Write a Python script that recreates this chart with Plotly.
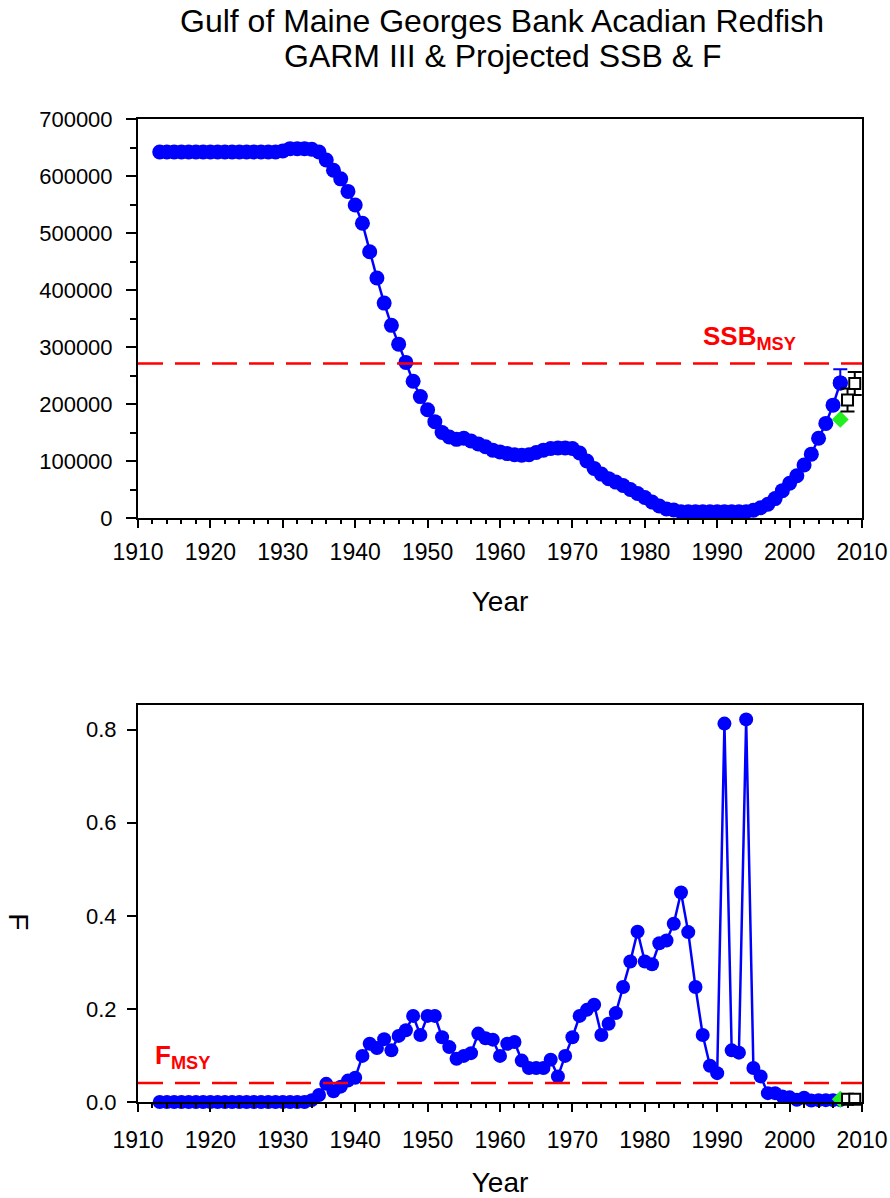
import plotly.graph_objects as go

# Assessment years and model estimates
years = list(range(1913, 2008))

ssb = (
    [642000] * 17                                   # 1913-1929
    + [644000, 648000, 648000, 648000, 647000,      # 1930-1934
       642000, 628000, 610000, 595000, 573000,      # 1935-1939
       549000, 517000, 467000, 421000, 377000,      # 1940-1944
       338000, 305000, 273000, 240000, 213000,      # 1945-1949
       190000, 169000, 150000, 142000, 138000,      # 1950-1954
       140000, 135000, 130000, 125000, 119000,      # 1955-1959
       116000, 113000, 111000, 110000, 111000,      # 1960-1964
       115000, 119000, 122000, 123000, 123000,      # 1965-1969
       122000, 114000, 100000, 87000, 77000,        # 1970-1974
       69000, 63000, 57000, 50000, 43000,           # 1975-1979
       36000, 28000, 21000, 16000, 14000]           # 1980-1984
    + [11000] * 10                                  # 1985-1994
    + [13500, 18000, 24000, 34000, 48000,           # 1995-1999
       61000, 74000, 93000, 112000, 140000,         # 2000-2004
       166000, 198000, 237000]                      # 2005-2007
)

fmort = (
    [0.0] * 21                                      # 1913-1933
    + [0.004, 0.015, 0.039, 0.023, 0.033, 0.046,    # 1934-1939
       0.052, 0.099, 0.125, 0.116, 0.135,           # 1940-1944
       0.111, 0.142, 0.154, 0.185, 0.144,           # 1945-1949
       0.185, 0.185, 0.139, 0.118, 0.093,           # 1950-1954
       0.099, 0.105, 0.147, 0.137, 0.134,           # 1955-1959
       0.099, 0.125, 0.129, 0.089, 0.073,           # 1960-1964
       0.073, 0.073, 0.091, 0.055, 0.099,           # 1965-1969
       0.139, 0.185, 0.198, 0.209, 0.144,           # 1970-1974
       0.168, 0.191, 0.247, 0.302, 0.366,           # 1975-1979
       0.302, 0.296, 0.341, 0.347, 0.383,           # 1980-1984
       0.450, 0.365, 0.247, 0.144, 0.078,           # 1985-1989
       0.062, 0.813, 0.111, 0.106, 0.822,           # 1990-1994
       0.073, 0.055, 0.019, 0.019, 0.012,           # 1995-1999
       0.010, 0.005, 0.009, 0.003, 0.004,           # 2000-2004
       0.004, 0.004, 0.004]                         # 2005-2007
)

# Terminal-year upper confidence bound on SSB
ssb_last_upper = 24000

# Alternative terminal-year estimate
alt_years = [2007]
alt_ssb = [173000]
alt_f = [0.006]

# Projections
proj_years = [2008, 2009]
proj_ssb = [207000, 236000]
proj_ssb_err = [20000, 20000]
proj_f = [0.006, 0.006]

# Reference points
ssb_msy = 271000
f_msy = 0.041

FONT = "Liberation Sans, Arial, sans-serif"
BLUE = "#0000FF"
RED = "#FF0000"
GREEN = "#22EE22"

fig = go.Figure()

# ---- SSB panel ----
fig.add_trace(go.Scatter(
    x=years, y=ssb, mode="lines+markers", cliponaxis=False,
    line=dict(color=BLUE, width=2.5),
    marker=dict(color=BLUE, size=15, line=dict(width=0)),
    xaxis="x", yaxis="y", showlegend=False))
fig.add_trace(go.Scatter(
    x=[years[-1]], y=[ssb[-1]], mode="markers", cliponaxis=False,
    marker=dict(color=BLUE, size=15),
    error_y=dict(type="data", symmetric=False, array=[ssb_last_upper],
                 arrayminus=[0], color=BLUE, thickness=2, width=7),
    xaxis="x", yaxis="y", showlegend=False))
fig.add_trace(go.Scatter(
    x=alt_years, y=alt_ssb, mode="markers", cliponaxis=False,
    marker=dict(color=GREEN, symbol="diamond", size=13),
    xaxis="x", yaxis="y", showlegend=False))
fig.add_trace(go.Scatter(
    x=proj_years, y=proj_ssb, mode="markers", cliponaxis=False,
    marker=dict(color="white", symbol="square", size=11,
                line=dict(color="black", width=2)),
    error_y=dict(type="data", array=proj_ssb_err, color="black",
                 thickness=2, width=7),
    xaxis="x", yaxis="y", showlegend=False))

# ---- F panel ----
fig.add_trace(go.Scatter(
    x=years, y=fmort, mode="lines+markers", cliponaxis=False,
    line=dict(color=BLUE, width=2.5),
    marker=dict(color=BLUE, size=14, line=dict(width=0)),
    xaxis="x2", yaxis="y2", showlegend=False))
fig.add_trace(go.Scatter(
    x=alt_years, y=alt_f, mode="markers", cliponaxis=False,
    marker=dict(color=GREEN, symbol="diamond", size=13),
    xaxis="x2", yaxis="y2", showlegend=False))
fig.add_trace(go.Scatter(
    x=proj_years, y=proj_f, mode="markers", cliponaxis=False,
    marker=dict(color="white", symbol="square", size=11,
                line=dict(color="black", width=2)),
    xaxis="x2", yaxis="y2", showlegend=False))

# Reference-point lines
for ref, yref in ((ssb_msy, "y"), (f_msy, "y2")):
    fig.add_shape(type="line", xref="paper", yref=yref, x0=0, x1=1,
                  y0=ref, y1=ref, layer="above",
                  line=dict(color=RED, width=2.5, dash="25px,12px"))

axis_common = dict(
    showgrid=False, zeroline=False, showline=True, linecolor="black",
    linewidth=2, mirror=True, ticks="outside", tickcolor="black",
    tickwidth=2,
)


def year_axis(anchor, label_gap, title_gap):
    return dict(
        axis_common, anchor=anchor, range=[1910, 2010], tick0=1910,
        dtick=10, ticklen=8, ticklabelstandoff=label_gap,
        tickfont=dict(family=FONT, size=23, color="black"),
        minor=dict(dtick=2, tick0=1910, ticks="outside", ticklen=4,
                   tickwidth=2, tickcolor="black"),
        title=dict(text="Year",
                   font=dict(family=FONT, size=28, color="black"),
                   standoff=title_gap),
    )


fig.update_layout(
    width=890, height=1198,
    margin=dict(l=138, r=28, t=119, b=96, autoexpand=False),
    paper_bgcolor="white", plot_bgcolor="white",
    font=dict(family=FONT, color="black"),
    xaxis=year_axis("y", 4, 28),
    yaxis=dict(axis_common, domain=[0.5941, 1], anchor="x",
               range=[0, 700000], dtick=100000, ticklen=10,
               tickformat="d", ticklabelstandoff=9,
               tickfont=dict(family=FONT, size=22, color="black"),
               minor=dict(dtick=50000, ticks="outside", ticklen=6,
                          tickwidth=2, tickcolor="black")),
    xaxis2=year_axis("y2", 8, 28),
    yaxis2=dict(axis_common, domain=[0, 0.4039], anchor="x2",
                range=[0, 0.853], dtick=0.2, tickformat=".1f", ticklen=9,
                ticklabelstandoff=6,
                tickfont=dict(family=FONT, size=22, color="black")),
)

annotations = [
    dict(text="Gulf of Maine Georges Bank Acadian Redfish",
         xref="paper", yref="paper", x=0.503, y=1.0992,
         xanchor="center", yanchor="middle", showarrow=False,
         font=dict(family=FONT, size=32, color="black")),
    dict(text="GARM III & Projected SSB & F",
         xref="paper", yref="paper", x=0.503, y=1.0636,
         xanchor="center", yanchor="middle", showarrow=False,
         font=dict(family=FONT, size=32, color="black")),
    dict(text="<b>SSB<sub>MSY</sub></b>", xref="x", yref="y",
         x=1994.5, y=317000, xanchor="center", yanchor="middle",
         showarrow=False, font=dict(family=FONT, size=26, color=RED)),
    dict(text="<b>F<sub>MSY</sub></b>", xref="x2", yref="y2",
         x=1916.1, y=0.097, xanchor="center", yanchor="middle",
         showarrow=False, font=dict(family=FONT, size=26, color=RED)),
    dict(text="F", xref="paper", yref="paper", x=-0.1644, y=0.183,
         xanchor="center", yanchor="middle", textangle=90,
         showarrow=False, font=dict(family=FONT, size=28, color="black")),
]
fig.update_layout(annotations=annotations)

fig.write_html("out.html")
